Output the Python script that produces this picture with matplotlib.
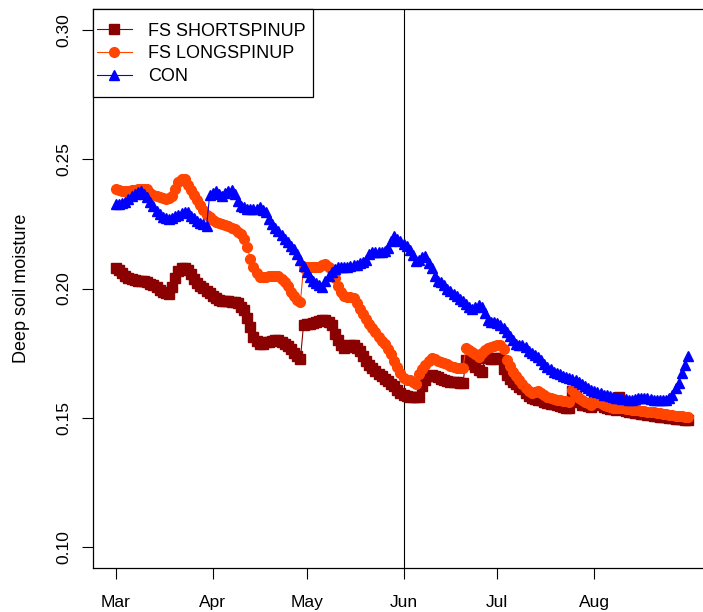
import matplotlib
matplotlib.use("Agg")
import matplotlib.pyplot as plt
from matplotlib.patches import Rectangle

plt.rcParams['font.family'] = ['Liberation Sans', 'DejaVu Sans']

# day index 0 = 1 March ... 183 = 31 August
days = list(range(184))

month_ticks = [0, 31, 61, 92, 122, 153]
month_labels = ["Mar", "Apr", "May", "Jun", "Jul", "Aug"]
vline_day = 92

fs_short = [
    0.2079, 0.2070, 0.2058, 0.2050, 0.2042, 0.2035, 0.2032, 0.2030, 0.2029, 0.2028,
    0.2024, 0.2018, 0.2012, 0.2004, 0.1995, 0.1988, 0.1982, 0.1977, 0.2004, 0.2040,
    0.2066, 0.2081, 0.2078, 0.2070, 0.2055, 0.2038, 0.2022, 0.2011, 0.2001, 0.1992,
    0.1981, 0.1971, 0.1963, 0.1956, 0.1953, 0.1952, 0.1951, 0.1949, 0.1946, 0.1943,
    0.1930, 0.1917, 0.1885, 0.1850, 0.1812, 0.1797, 0.1785, 0.1787, 0.1792, 0.1795,
    0.1797, 0.1800, 0.1802, 0.1795, 0.1787, 0.1776, 0.1765, 0.1752, 0.1740, 0.1727,
    0.1858, 0.1861, 0.1863, 0.1866, 0.1870, 0.1874, 0.1878, 0.1880, 0.1872, 0.1858,
    0.1825, 0.1800, 0.1782, 0.1771, 0.1775, 0.1780, 0.1783, 0.1772, 0.1758, 0.1740,
    0.1720, 0.1706, 0.1694, 0.1681, 0.1671, 0.1661, 0.1651, 0.1641, 0.1632, 0.1622,
    0.1609, 0.1598, 0.1589, 0.1584, 0.1581, 0.1580, 0.1580, 0.1581, 0.1625, 0.1648,
    0.1663, 0.1667, 0.1662, 0.1657, 0.1652, 0.1647, 0.1643, 0.1640, 0.1638, 0.1637,
    0.1636, 0.1636, 0.1724, 0.1715, 0.1707, 0.1697, 0.1686, 0.1678, 0.1730, 0.1730,
    0.1727, 0.1728, 0.1731, 0.1733, 0.1690, 0.1665, 0.1650, 0.1640, 0.1630, 0.1620,
    0.1610, 0.1598, 0.1585, 0.1578, 0.1572, 0.1570, 0.1568, 0.1562, 0.1558, 0.1555,
    0.1552, 0.1549, 0.1546, 0.1543, 0.1540, 0.1539, 0.1605, 0.1585, 0.1562, 0.1551,
    0.1548, 0.1545, 0.1543, 0.1578, 0.1562, 0.1550, 0.1541, 0.1538, 0.1535, 0.1533,
    0.1531, 0.1580, 0.1545, 0.1528, 0.1523, 0.1521, 0.1520, 0.1518, 0.1516, 0.1514,
    0.1512, 0.1510, 0.1509, 0.1507, 0.1505, 0.1504, 0.1502, 0.1500, 0.1499, 0.1497,
    0.1496, 0.1495, 0.1493, 0.1492,
]

fs_long = [
    0.2384, 0.2382, 0.2378, 0.2376, 0.2377, 0.2380, 0.2382, 0.2383, 0.2384, 0.2384,
    0.2384, 0.2370, 0.2362, 0.2356, 0.2352, 0.2349, 0.2346, 0.2350, 0.2358, 0.2385,
    0.2412, 0.2425, 0.2424, 0.2400, 0.2380, 0.2362, 0.2342, 0.2322, 0.2303, 0.2285,
    0.2275, 0.2265, 0.2256, 0.2252, 0.2249, 0.2245, 0.2240, 0.2235, 0.2230, 0.2220,
    0.2210, 0.2190, 0.2160, 0.2115, 0.2085, 0.2060, 0.2045, 0.2044, 0.2046, 0.2047,
    0.2047, 0.2047, 0.2047, 0.2038, 0.2026, 0.2008, 0.1988, 0.1972, 0.1956, 0.1946,
    0.2080, 0.2085, 0.2084, 0.2083, 0.2082, 0.2085, 0.2089, 0.2093, 0.2085, 0.2072,
    0.2040, 0.2010, 0.1988, 0.1972, 0.1968, 0.1966, 0.1965, 0.1945, 0.1922, 0.1900,
    0.1882, 0.1864, 0.1846, 0.1830, 0.1814, 0.1798, 0.1786, 0.1765, 0.1747, 0.1720,
    0.1695, 0.1672, 0.1655, 0.1647, 0.1647, 0.1640, 0.1630, 0.1670, 0.1690, 0.1705,
    0.1720, 0.1733, 0.1728, 0.1720, 0.1716, 0.1712, 0.1707, 0.1702, 0.1697, 0.1694,
    0.1694, 0.1694, 0.1771, 0.1763, 0.1755, 0.1745, 0.1735, 0.1750, 0.1764, 0.1770,
    0.1775, 0.1779, 0.1781, 0.1783, 0.1765, 0.1725, 0.1700, 0.1678, 0.1660, 0.1645,
    0.1630, 0.1616, 0.1605, 0.1598, 0.1600, 0.1604, 0.1598, 0.1588, 0.1579, 0.1575,
    0.1572, 0.1570, 0.1568, 0.1566, 0.1564, 0.1562, 0.1609, 0.1590, 0.1578, 0.1568,
    0.1562, 0.1556, 0.1551, 0.1570, 0.1563, 0.1557, 0.1551, 0.1547, 0.1543, 0.1539,
    0.1539, 0.1538, 0.1537, 0.1535, 0.1533, 0.1532, 0.1531, 0.1529, 0.1528, 0.1526,
    0.1524, 0.1523, 0.1521, 0.1520, 0.1518, 0.1516, 0.1514, 0.1512, 0.1511, 0.1509,
    0.1508, 0.1506, 0.1505, 0.1504,
]

con = [
    0.2326, 0.2326, 0.2330, 0.2336, 0.2345, 0.2356, 0.2365, 0.2371, 0.2376, 0.2366,
    0.2353, 0.2336, 0.2320, 0.2300, 0.2288, 0.2277, 0.2271, 0.2267, 0.2272, 0.2279,
    0.2285, 0.2292, 0.2297, 0.2294, 0.2282, 0.2271, 0.2262, 0.2255, 0.2249, 0.2242,
    0.2362, 0.2370, 0.2376, 0.2366, 0.2358, 0.2368, 0.2376, 0.2380, 0.2365, 0.2340,
    0.2320, 0.2313, 0.2307, 0.2306, 0.2306, 0.2306, 0.2316, 0.2305, 0.2295, 0.2270,
    0.2250, 0.2233, 0.2221, 0.2205, 0.2192, 0.2178, 0.2164, 0.2151, 0.2133, 0.2112,
    0.2088, 0.2065, 0.2045, 0.2030, 0.2020, 0.2012, 0.2005, 0.2030, 0.2050, 0.2062,
    0.2075, 0.2085, 0.2085, 0.2085, 0.2085, 0.2087, 0.2089, 0.2092, 0.2097, 0.2103,
    0.2110, 0.2135, 0.2140, 0.2140, 0.2140, 0.2141, 0.2143, 0.2155, 0.2185, 0.2202,
    0.2192, 0.2185, 0.2173, 0.2163, 0.2148, 0.2128, 0.2106, 0.2112, 0.2120, 0.2124,
    0.2100, 0.2081, 0.2050, 0.2030, 0.2025, 0.2015, 0.2000, 0.1990, 0.1980, 0.1970,
    0.1960, 0.1950, 0.1940, 0.1929, 0.1920, 0.1928, 0.1937, 0.1928, 0.1905, 0.1880,
    0.1872, 0.1872, 0.1866, 0.1858, 0.1849, 0.1832, 0.1815, 0.1800, 0.1784, 0.1783,
    0.1783, 0.1775, 0.1760, 0.1750, 0.1742, 0.1735, 0.1725, 0.1707, 0.1698, 0.1688,
    0.1679, 0.1675, 0.1668, 0.1661, 0.1658, 0.1655, 0.1652, 0.1646, 0.1638, 0.1632,
    0.1624, 0.1616, 0.1609, 0.1605, 0.1600, 0.1595, 0.1590, 0.1587, 0.1584, 0.1581,
    0.1578, 0.1576, 0.1574, 0.1572, 0.1570, 0.1570, 0.1572, 0.1575, 0.1577, 0.1578,
    0.1576, 0.1573, 0.1571, 0.1570, 0.1570, 0.1570, 0.1571, 0.1575, 0.1590, 0.1615,
    0.1636, 0.1672, 0.1705, 0.1740,
]

y_ticks = [0.10, 0.15, 0.20, 0.25, 0.30]

W, H = 703, 612
fig = plt.figure(figsize=(W / 100, H / 100), dpi=100)
ax = fig.add_axes([93 / W, (H - 568) / H, (711 - 93) / W, (568 - 9) / H])

ax.plot(days, fs_short, color='#8B0000', marker='s', ms=6.5, lw=0.8,
        mec='#8B0000', label='FS SHORTSPINUP', zorder=3)
ax.plot(days, fs_long, color='#FF4500', marker='o', ms=7, lw=0.8,
        mec='#FF4500', label='FS LONGSPINUP', zorder=4)
ax.plot(days, con, color='#0000FF', marker='^', ms=7.5, lw=0.8,
        mec='#0000FF', label='CON', zorder=5)

ax.axvline(vline_day, color='black', lw=0.8, zorder=2)

ax.set_xlim(-7.32, 190.32)
ax.set_ylim(0.092, 0.308)

ax.set_xticks(month_ticks)
ax.set_xticklabels(month_labels)
ax.set_yticks(y_ticks)
ax.set_yticklabels([f"{v:.2f}" for v in y_ticks], rotation=90, va='center')

ax.tick_params(axis='both', direction='out', length=7.8, width=0.8,
               labelsize=12.5, colors='black')
ax.tick_params(axis='x', pad=11.5)
ax.tick_params(axis='y', pad=8)

for sp in ax.spines.values():
    sp.set_linewidth(0.9)
    sp.set_color('black')

ax.set_ylabel('Deep soil moisture', fontsize=13, labelpad=19)

# legend frame (R style box) and entries
frame = Rectangle((93 / W, 1 - 96.7 / H), (313 - 93) / W, (96.7 - 9) / H,
                  transform=fig.transFigure, facecolor='white',
                  edgecolor='black', lw=0.9, zorder=9, clip_on=False)
ax.add_patch(frame)

leg = ax.legend(loc='upper left', bbox_to_anchor=(97 / W, 1 - 22.5 / H),
                bbox_transform=fig.transFigure, borderaxespad=0, borderpad=0,
                frameon=False, fontsize=13, handlelength=1.93,
                handletextpad=0.88, labelspacing=0.32)
leg.set_zorder(10)

fig.savefig('out.png', dpi=100)
